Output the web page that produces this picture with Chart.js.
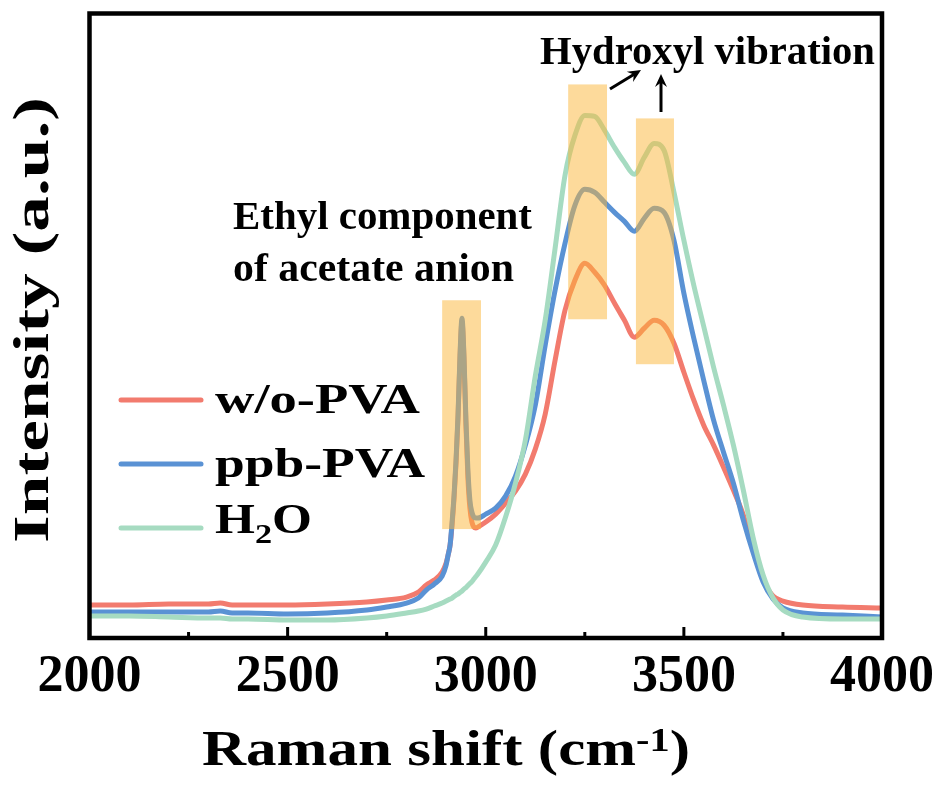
<!DOCTYPE html>
<html>
<head>
<meta charset="utf-8">
<script src="https://cdn.jsdelivr.net/npm/chart.js@4.4.1/dist/chart.umd.min.js"></script>
<style>
  html, body { margin: 0; padding: 0; background: #fff; }
  canvas { display: block; }
</style>
</head>
<body>
<canvas id="ramanChart" width="939" height="796"></canvas>
<script>
// Raman shift (cm-1) sample points shared by the three spectra
const shift = [2000, 2100, 2200, 2300, 2330, 2360, 2400, 2500, 2600, 2700, 2750, 2800, 2830, 2850, 2870, 2890,
    2900, 2905, 2910, 2915, 2920, 2925, 2930, 2935, 2940, 2945, 2950, 2955, 2960, 2965, 2970, 2975, 2980,
    3000, 3025, 3050, 3075, 3100, 3125, 3150, 3175, 3200, 3225, 3250, 3275, 3300, 3325, 3350, 3375,
    3400, 3425, 3450, 3475, 3500, 3525, 3550, 3575, 3600, 3625, 3650, 3675, 3700, 3725, 3750,
    3800, 3900, 4000];

// intensities (a.u.)
const woPVA = [33, 33, 34, 34, 35, 33, 33, 33, 34, 36, 38, 41, 46, 53, 58, 66,
    75, 83, 93, 113, 140, 175, 220, 280, 316, 280, 213, 160, 130, 116, 111, 110, 111,
    116, 124, 135, 147, 164, 189, 224, 278, 328, 358, 375, 366, 353, 335, 318, 301,
    310, 318, 313, 295, 266, 238, 213, 193, 171, 148, 123, 88, 58, 42, 37,
    33, 31, 30];
const ppbPVA = [26, 26, 26, 26, 27, 25, 25, 24, 25, 28, 31, 35, 40, 48, 54, 62,
    73, 83, 93, 116, 143, 178, 223, 283, 320, 283, 218, 168, 138, 126, 121, 120, 120,
    124, 130, 142, 162, 193, 233, 293, 348, 395, 433, 449, 446, 436, 426, 417, 407,
    420, 430, 426, 398, 345, 300, 258, 218, 186, 155, 118, 85, 56, 39, 30,
    25, 23, 21];
const water = [22, 22, 21, 20, 20, 19, 19, 18, 18, 20, 22, 25, 27, 29, 32, 35,
    37, 38, 39, 40, 41.5, 43, 44, 45.5, 47, 49, 50.5, 52.5, 54.5, 56.5, 59, 61.5, 64,
    76, 93, 121, 155, 198, 262, 318, 390, 463, 503, 523, 522, 508, 491, 476, 464,
    481, 495, 488, 446, 398, 353, 312, 271, 233, 193, 148, 100, 63, 40, 28,
    21, 19, 19];

const seriesNames = ['w/o-PVA', 'ppb-PVA', 'H2O'];
const seriesColors = ['#F27B6E', '#5A92D4', '#A6DBC1'];
const xTicks = [2000, 2500, 3000, 3500, 4000];

// highlighted bands: [x0, x1, y0, y1]
const bands = [
    [2890, 2988, 109, 338],
    [3208, 3306, 319, 554],
    [3379, 3475, 274, 520]
];

const SERIF = "'Liberation Serif', 'Times New Roman', serif";

function toPoints(values) {
    return shift.map((x, i) => ({ x: x, y: values[i] }));
}

// draws bold serif text, stretched horizontally so it spans the given width
function stretchText(ctx, text, x, y, size, width) {
    ctx.save();
    ctx.font = 'bold ' + size + 'px ' + SERIF;
    const natural = ctx.measureText(text).width;
    ctx.translate(x, y);
    ctx.scale(width / natural, 1);
    ctx.textAlign = 'left';
    ctx.textBaseline = 'alphabetic';
    ctx.fillText(text, 0, 0);
    ctx.restore();
}

// draws a run of pieces [text, size, dy] starting at x, scaled to total width
function drawPieces(ctx, pieces, x, y, width) {
    ctx.save();
    let total = 0;
    pieces.forEach(p => {
        ctx.font = 'bold ' + p[1] + 'px ' + SERIF;
        total += ctx.measureText(p[0]).width;
    });
    ctx.translate(x, y);
    ctx.scale(width / total, 1);
    ctx.textAlign = 'left';
    ctx.textBaseline = 'alphabetic';
    let cx = 0;
    pieces.forEach(p => {
        ctx.font = 'bold ' + p[1] + 'px ' + SERIF;
        ctx.fillText(p[0], cx, p[2]);
        cx += ctx.measureText(p[0]).width;
    });
    ctx.restore();
}

function arrow(ctx, x0, y0, x1, y1) {
    const ang = Math.atan2(y1 - y0, x1 - x0);
    const len = 13, half = 6;
    ctx.save();
    ctx.strokeStyle = '#000';
    ctx.fillStyle = '#000';
    ctx.lineWidth = 3;
    ctx.beginPath();
    ctx.moveTo(x0, y0);
    ctx.lineTo(x1 - Math.cos(ang) * 8, y1 - Math.sin(ang) * 8);
    ctx.stroke();
    ctx.translate(x1, y1);
    ctx.rotate(ang);
    ctx.beginPath();
    ctx.moveTo(0, 0);
    ctx.lineTo(-len, -half);
    ctx.lineTo(-len * 0.65, 0);
    ctx.lineTo(-len, half);
    ctx.closePath();
    ctx.fill();
    ctx.restore();
}

const figureExtras = {
    id: 'figureExtras',
    beforeDraw(chart) {
        const ctx = chart.ctx;
        ctx.save();
        ctx.fillStyle = '#fff';
        ctx.fillRect(0, 0, chart.width, chart.height);
        ctx.restore();
    },
    afterDatasetsDraw(chart) {
        const ctx = chart.ctx;
        const xs = chart.scales.x, ys = chart.scales.y;
        ctx.save();
        ctx.globalAlpha = 0.5;
        ctx.fillStyle = 'rgb(251, 181, 55)';
        bands.forEach(b => {
            const left = xs.getPixelForValue(b[0]);
            const right = xs.getPixelForValue(b[1]);
            const top = ys.getPixelForValue(b[3]);
            const bottom = ys.getPixelForValue(b[2]);
            ctx.fillRect(left, top, right - left, bottom - top);
        });
        ctx.restore();
    },
    afterDraw(chart) {
        const ctx = chart.ctx;
        const area = chart.chartArea;
        const xs = chart.scales.x;

        // frame
        ctx.save();
        ctx.strokeStyle = '#000';
        ctx.lineWidth = 4.5;
        ctx.strokeRect(area.left, area.top, area.right - area.left, area.bottom - area.top);

        // inward ticks on the bottom axis
        ctx.lineWidth = 3;
        for (let v = xs.min; v <= xs.max; v += 250) {
            const px = xs.getPixelForValue(v);
            const major = v % 500 === 0;
            ctx.beginPath();
            ctx.moveTo(px, area.bottom);
            ctx.lineTo(px, area.bottom - (major ? 11 : 6));
            ctx.stroke();
        }
        ctx.restore();

        ctx.save();
        ctx.fillStyle = '#000';

        // axis titles
        drawPieces(ctx, [['Raman shift (cm', 50, 0], ['-1', 33, -14], [')', 50, 0]], 202, 765, 488);
        ctx.save();
        ctx.translate(48, 543);
        ctx.rotate(-Math.PI / 2);
        stretchText(ctx, 'Intensity (a.u.)', 0, 0, 50, 446);
        ctx.restore();

        // annotations
        stretchText(ctx, 'Hydroxyl vibration', 540, 64, 41, 335);
        stretchText(ctx, 'Ethyl component', 233, 229, 41, 299);
        stretchText(ctx, 'of acetate anion', 233, 281, 41, 281);
        arrow(ctx, 610, 89, 641, 70);
        arrow(ctx, 661, 112, 661, 74);

        // legend
        const rows = [400, 464, 528];
        rows.forEach((y, i) => {
            ctx.save();
            ctx.strokeStyle = seriesColors[i];
            ctx.lineWidth = 5;
            ctx.lineCap = 'round';
            ctx.beginPath();
            ctx.moveTo(121, y);
            ctx.lineTo(201, y);
            ctx.stroke();
            ctx.restore();
        });
        stretchText(ctx, seriesNames[0], 215, 413, 42, 205);
        stretchText(ctx, seriesNames[1], 215, 477, 42, 210);
        drawPieces(ctx, [['H', 42, 0], ['2', 28, 10], ['O', 42, 0]], 215, 533, 97);
        ctx.restore();
    }
};

const seriesValues = [woPVA, ppbPVA, water];

new Chart(document.getElementById('ramanChart'), {
    type: 'line',
    data: {
        datasets: seriesValues.map((vals, i) => ({
            label: seriesNames[i],
            data: toPoints(vals),
            borderColor: seriesColors[i],
            borderWidth: 5,
            pointRadius: 0,
            fill: false,
            cubicInterpolationMode: 'monotone',
            borderJoinStyle: 'round',
            order: 2 - i
        }))
    },
    options: {
        responsive: false,
        devicePixelRatio: 1,
        animation: false,
        layout: { padding: { left: 89.5, right: 57, top: 13.5, bottom: 0 } },
        plugins: {
            legend: { display: false },
            tooltip: { enabled: false }
        },
        scales: {
            x: {
                type: 'linear',
                min: 2000,
                max: 4000,
                grid: { display: false },
                border: { display: false },
                afterBuildTicks: scale => {
                    scale.ticks = xTicks.map(v => ({ value: v }));
                },
                ticks: {
                    autoSkip: false,
                    maxRotation: 0,
                    color: '#000',
                    padding: 0,
                    font: { family: SERIF, size: 52, weight: 'bold' },
                    callback: v => String(v)
                },
                afterFit: scale => { scale.height = 158; }
            },
            y: {
                display: false,
                min: 0,
                max: 625
            }
        }
    },
    plugins: [figureExtras]
});
</script>
</body>
</html>
